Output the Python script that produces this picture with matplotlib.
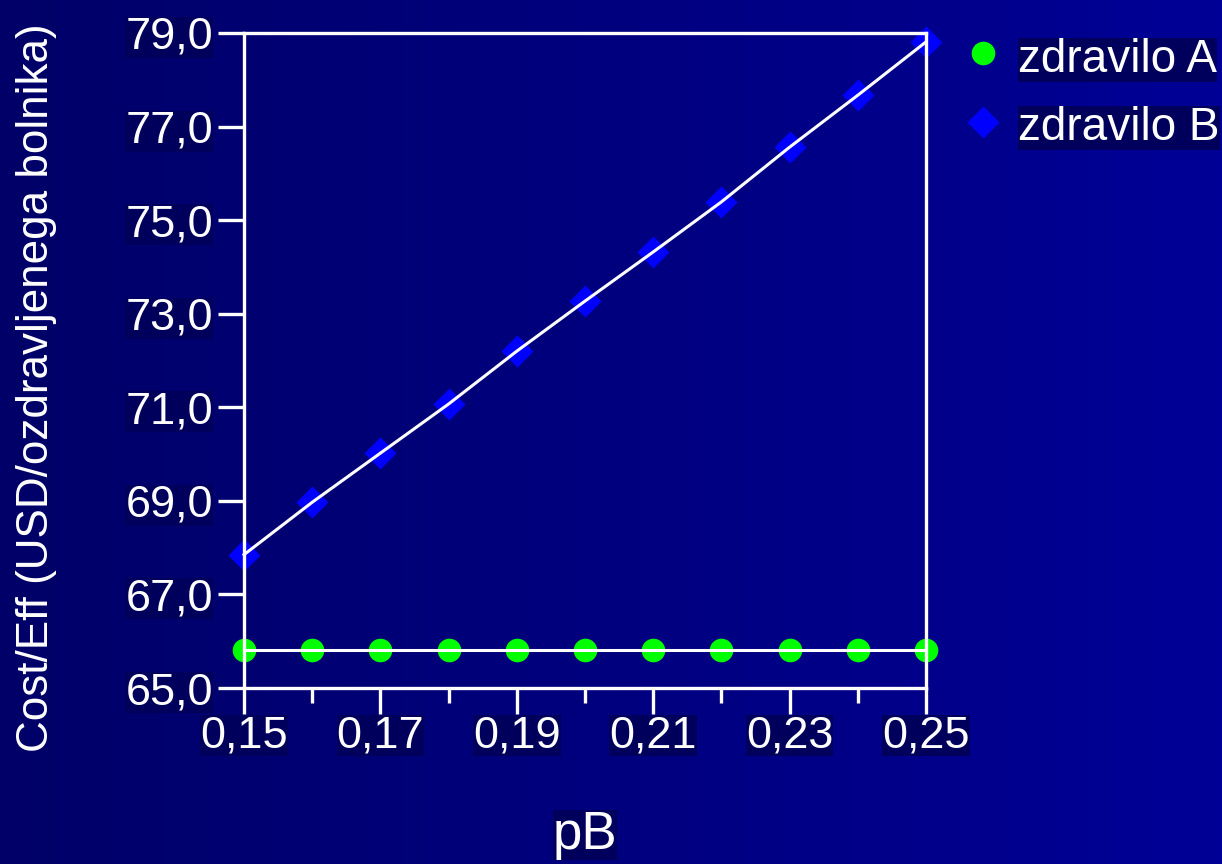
import numpy as np
import matplotlib
matplotlib.use("Agg")
import matplotlib.pyplot as plt
from matplotlib.colors import LinearSegmentedColormap
from matplotlib.lines import Line2D
from matplotlib.ticker import FixedLocator, FuncFormatter

plt.rcParams['font.family'] = ['Liberation Sans', 'DejaVu Sans']

# pB values and cost-effectiveness of both drugs
pb = [0.15, 0.16, 0.17, 0.18, 0.19, 0.20, 0.21, 0.22, 0.23, 0.24, 0.25]
drug_a = [65.82] * 11
drug_b = [67.85, 68.97, 70.02, 71.07, 72.20, 73.27, 74.32, 75.39, 76.56, 77.67, 78.81]
series_names = ["zdravilo A", "zdravilo B"]
y_ticks = [65, 67, 69, 71, 73, 75, 77, 79]
x_ticks = [0.15, 0.17, 0.19, 0.21, 0.23, 0.25]
x_minor = [0.16, 0.18, 0.20, 0.22, 0.24]

W, H = 1222, 864
fig = plt.figure(figsize=(W / 100, H / 100), dpi=100)

# horizontal navy-to-blue background gradient
bg = fig.add_axes([0, 0, 1, 1], zorder=-10)
cmap = LinearSegmentedColormap.from_list("bg", ["#000068", "#000096"])
bg.imshow(np.linspace(0, 1, 256)[None, :], aspect="auto", cmap=cmap,
          extent=[0, 1, 0, 1])
bg.set_axis_off()

ax = fig.add_axes([244 / W, 1 - 688 / H, (926 - 244) / W, (688 - 33) / H])
ax.set_facecolor("none")

green, blue = "#00ff00", "#0000ff"
ax.plot(pb, drug_a, color="white", lw=2.2, zorder=2, clip_on=False)
ax.plot(pb, drug_b, color="white", lw=2.2, zorder=2, clip_on=False)
ax.plot(pb, drug_a, ls="none", marker="o", ms=17, color=green,
        mec="none", zorder=1, clip_on=False)
ax.plot(pb, drug_b, ls="none", marker="D", ms=16, color=blue,
        mec="none", zorder=1, clip_on=False)

ax.set_xlim(0.15, 0.25)
ax.set_ylim(65, 79)

for s in ax.spines.values():
    s.set_color("white")
    s.set_linewidth(2.4)

ax.xaxis.set_major_locator(FixedLocator(x_ticks))
ax.xaxis.set_minor_locator(FixedLocator(x_minor))
ax.yaxis.set_major_locator(FixedLocator(y_ticks))
ax.xaxis.set_major_formatter(FuncFormatter(lambda v, p: f"{v:.2f}".replace(".", ",")))
ax.yaxis.set_major_formatter(FuncFormatter(lambda v, p: f"{v:.1f}".replace(".", ",")))

ax.tick_params(axis="both", which="major", direction="out", length=18.5,
               width=2.4, color="white", labelcolor="white", labelsize=32.5)
ax.tick_params(axis="x", which="minor", direction="out", length=11,
               width=2.4, color="white")
ax.tick_params(axis="y", which="major", pad=4)
ax.tick_params(axis="x", which="major", pad=1)

label_box = dict(boxstyle="square,pad=0", facecolor="#00005c", edgecolor="none")
for t in ax.get_xticklabels() + ax.get_yticklabels():
    t.set_bbox(label_box)

fig.text(585 / W, 1 - 835 / H, "pB", color="white", fontsize=38,
         ha="center", va="center", bbox=label_box)
fig.text(37 / W, 1 - 388 / H, "Cost/Eff (USD/ozdravljenega bolnika)",
         color="white", fontsize=31.7, rotation=90, ha="center", va="center")

# legend: marker plus boxed label for each series
legend_rows = [(series_names[0], "o", 17, green, 53, 60),
               (series_names[1], "D", 16, blue, 122, 128)]
for name, mk, ms, col, ym, yt in legend_rows:
    fig.add_artist(Line2D([983 / W], [1 - ym / H], transform=fig.transFigure,
                          ls="none", marker=mk, ms=ms, color=col, mec="none"))
    fig.text(1018 / W, 1 - yt / H, name, color="white", fontsize=33,
             ha="left", va="center", bbox=label_box)

fig.savefig("out.png", dpi=100)
